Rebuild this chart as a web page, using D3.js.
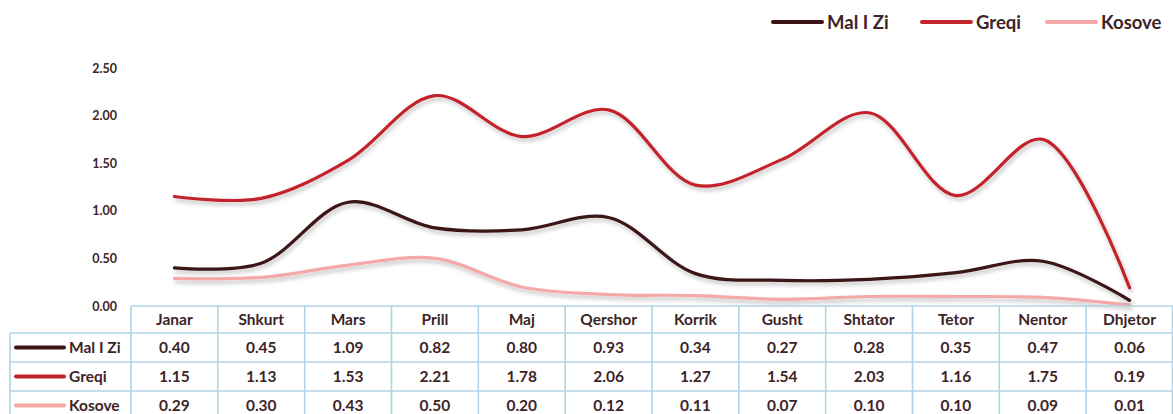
<!DOCTYPE html>
<html><head><meta charset="utf-8">
<script src="https://cdn.jsdelivr.net/npm/d3@7"></script>
<style>body{margin:0;background:#fff}svg{display:block}text{font-family:Lato,"Open Sans",sans-serif;font-weight:bold;fill:#3d2426}</style>
</head><body><svg id="c" width="1173" height="414"></svg>
<script>
const months = ["Janar","Shkurt","Mars","Prill","Maj","Qershor","Korrik","Gusht","Shtator","Tetor","Nentor","Dhjetor"];
const seriesNames = ["Mal I Zi","Greqi","Kosove"];
const malIZi = [0.40,0.45,1.09,0.82,0.80,0.93,0.34,0.27,0.28,0.35,0.47,0.06];
const greqi  = [1.15,1.13,1.53,2.21,1.78,2.06,1.27,1.54,2.03,1.16,1.75,0.19];
const kosove = [0.29,0.30,0.43,0.50,0.20,0.12,0.11,0.07,0.10,0.10,0.09,0.01];
const yTicks = [0,0.5,1,1.5,2,2.5];
const colors = ["#3b1216","#c3242b","#f5a8a8"];
const data = [malIZi, greqi, kosove];

const svg = d3.select("#c");
const defs = svg.append("defs");
const f = defs.append("filter").attr("id","sh").attr("x","-5%").attr("y","-20%").attr("width","110%").attr("height","150%");
f.append("feDropShadow").attr("dx",1.5).attr("dy",3).attr("stdDeviation",2).attr("flood-color","#000").attr("flood-opacity",0.25);

const x0 = 131, x1 = 1173;
const x = d3.scaleBand().domain(months).range([x0, x1]);
const y = d3.scaleLinear().domain([0,2.5]).range([306,68]);

// y axis labels
const ya = svg.append("g").attr("transform","translate(117,0)")
  .call(d3.axisLeft(y).tickValues(yTicks).tickFormat(d3.format(".2f")).tickSize(0).tickPadding(0));
ya.select(".domain").remove();
ya.selectAll("text").style("font-size","12.5px").attr("fill","#3d2426").attr("font-family","Lato").attr("font-weight","bold");

// lines
const line = d3.line().x((d,i)=>x(months[i])+x.bandwidth()/2).y(d=>y(d)).curve(d3.curveCatmullRom.alpha(0.5));
[2,1,0].forEach(k=>{
  svg.append("path").attr("d",line(data[k])).attr("fill","none").attr("stroke",colors[k])
    .attr("stroke-width",3.2).attr("stroke-linecap","round").attr("filter","url(#sh)");
});

// table
const bc = "#b0d4e5";
const rowY = [306,333,362,391,420];
const tb = svg.append("g");
tb.append("line").attr("x1",x0).attr("x2",x1).attr("y1",rowY[0]).attr("y2",rowY[0]).attr("stroke",bc).attr("stroke-width",1.6);
for(let r=1;r<rowY.length;r++){
  tb.append("line").attr("x1",10).attr("x2",x1).attr("y1",rowY[r]).attr("y2",rowY[r]).attr("stroke",bc).attr("stroke-width",1.6);
}
tb.append("line").attr("x1",10).attr("x2",10).attr("y1",rowY[1]).attr("y2",414).attr("stroke",bc).attr("stroke-width",1.6);
months.forEach(m=>{
  tb.append("line").attr("x1",x(m)).attr("x2",x(m)).attr("y1",rowY[0]).attr("y2",414).attr("stroke",bc).attr("stroke-width",1.6);
});
tb.append("line").attr("x1",x1-0.5).attr("x2",x1-0.5).attr("y1",rowY[0]).attr("y2",414).attr("stroke",bc).attr("stroke-width",1.6);

tb.selectAll("text.hd").data(months).enter().append("text").attr("class","hd")
  .attr("x",d=>x(d)+x.bandwidth()/2).attr("y",(rowY[0]+rowY[1])/2+5.5).attr("text-anchor","middle")
  .style("font-size","15.5px").text(d=>d);
data.forEach((arr,k)=>{
  const cy = (rowY[k+1]+rowY[k+2])/2;
  tb.selectAll("text.v"+k).data(arr).enter().append("text")
    .attr("x",(d,i)=>x(months[i])+x.bandwidth()/2).attr("y",cy+5.5).attr("text-anchor","middle")
    .style("font-size","15.5px").text(d=>d.toFixed(2));
  tb.append("line").attr("x1",16).attr("x2",64).attr("y1",cy).attr("y2",cy).attr("stroke",colors[k]).attr("stroke-width",4).attr("stroke-linecap","round");
  tb.append("text").attr("x",69).attr("y",cy+5.5).style("font-size","15.5px").text(seriesNames[k]);
});

// legend
const lx = [773,922,1047];
seriesNames.forEach((n,k)=>{
  svg.append("line").attr("x1",lx[k]).attr("x2",lx[k]+49).attr("y1",22).attr("y2",22).attr("stroke",colors[k]).attr("stroke-width",4).attr("stroke-linecap","round");
  svg.append("text").attr("x",lx[k]+54).attr("y",29).style("font-size","18.5px").text(n);
});
</script></body></html>
